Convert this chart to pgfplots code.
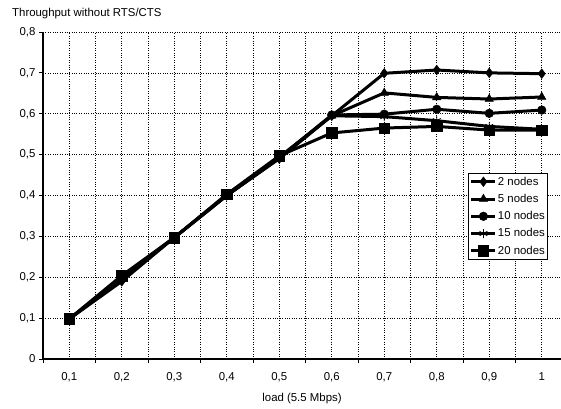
\documentclass[border=0pt]{standalone}
\usepackage{fontspec}
\setmainfont{Liberation Sans}
\usepackage{pgfplots}
\pgfplotsset{compat=1.18}
\begin{document}
\begin{tikzpicture}[x=1bp,y=1bp,font=\fontsize{11.4bp}{13bp}\selectfont]
\useasboundingbox (0,0) rectangle (561,408);
\node[anchor=west,inner sep=0pt] at (12,394) {Throughput without RTS/CTS};
\begin{axis}[
  at={(43bp,49bp)}, anchor=south west,
  scale only axis, width=518bp, height=327bp,
  xmin=0.05, xmax=1.0367, ymin=0, ymax=0.8,
  axis lines*=left,
  axis line style={line width=1.1bp},
  xtick={0.1,0.2,0.3,0.4,0.5,0.6,0.7,0.8,0.9,1.0},
  xticklabels={{0,1},{0,2},{0,3},{0,4},{0,5},{0,6},{0,7},{0,8},{0,9},1},
  minor xtick={0.05,0.15,0.25,0.35,0.45,0.55,0.65,0.75,0.85,0.95},
  ytick={0,0.1,0.2,0.3,0.4,0.5,0.6,0.7,0.8},
  yticklabels={0,{0,1},{0,2},{0,3},{0,4},{0,5},{0,6},{0,7},{0,8}},
  tick align=outside,
  major tick length=4bp, minor tick length=4bp,
  major x tick style={draw=none},
  tick style={black, line width=0.8bp},
  grid=both,
  major grid style={black, dotted, line width=0.7bp},
  minor grid style={black, dotted, line width=0.7bp},
  xlabel={load (5.5 Mbps)},
  xticklabel style={yshift=-6bp},
  xlabel style={yshift=-4bp},
  every axis plot/.append style={black, line width=3bp},
  legend style={at={(0.8205,0.5688)}, anchor=north west, draw=black, fill=white,
    line width=0.8bp, inner xsep=1.5bp, inner ysep=2bp, row sep=4.5bp,
    font=\fontsize{11.4bp}{13bp}\selectfont,
    nodes={inner xsep=1bp, inner ysep=1.5bp}},
  legend cell align=left,
  legend image code/.code={\draw[mark repeat=2,mark phase=2,#1] plot coordinates {(0bp,0bp) (12bp,0bp) (24bp,0bp)};},
]
\addplot[mark=diamond*, mark size=4.8bp, mark options={solid,line width=0.5bp}] coordinates {
(0.1,0.098) (0.2,0.19) (0.3,0.297) (0.4,0.400) (0.5,0.490) (0.6,0.595) (0.7,0.699) (0.8,0.707) (0.9,0.700) (1.0,0.698)};
\addlegendentry{2 nodes}
\addplot[mark=triangle*, mark size=4.8bp, mark options={solid,line width=0.5bp}] coordinates {
(0.1,0.098) (0.2,0.195) (0.3,0.297) (0.4,0.400) (0.5,0.492) (0.6,0.595) (0.7,0.651) (0.8,0.640) (0.9,0.636) (1.0,0.641)};
\addlegendentry{5 nodes}
\addplot[mark=*, mark size=4.3bp, mark options={solid,line width=0.5bp}] coordinates {
(0.1,0.098) (0.2,0.198) (0.3,0.297) (0.4,0.400) (0.5,0.492) (0.6,0.597) (0.7,0.599) (0.8,0.611) (0.9,0.601) (1.0,0.609)};
\addlegendentry{10 nodes}
\addplot[mark=asterisk, mark size=4.5bp, mark options={solid,line width=0.8bp}] coordinates {
(0.1,0.098) (0.2,0.200) (0.3,0.297) (0.4,0.400) (0.5,0.494) (0.6,0.595) (0.7,0.593) (0.8,0.583) (0.9,0.569) (1.0,0.562)};
\addlegendentry{15 nodes}
\addplot[mark=square*, mark size=5.3bp, mark options={solid,line width=0.5bp}] coordinates {
(0.1,0.098) (0.2,0.204) (0.3,0.297) (0.4,0.403) (0.5,0.497) (0.6,0.553) (0.7,0.565) (0.8,0.569) (0.9,0.560) (1.0,0.560)};
\addlegendentry{20 nodes}
\end{axis}
\end{tikzpicture}
\end{document}
